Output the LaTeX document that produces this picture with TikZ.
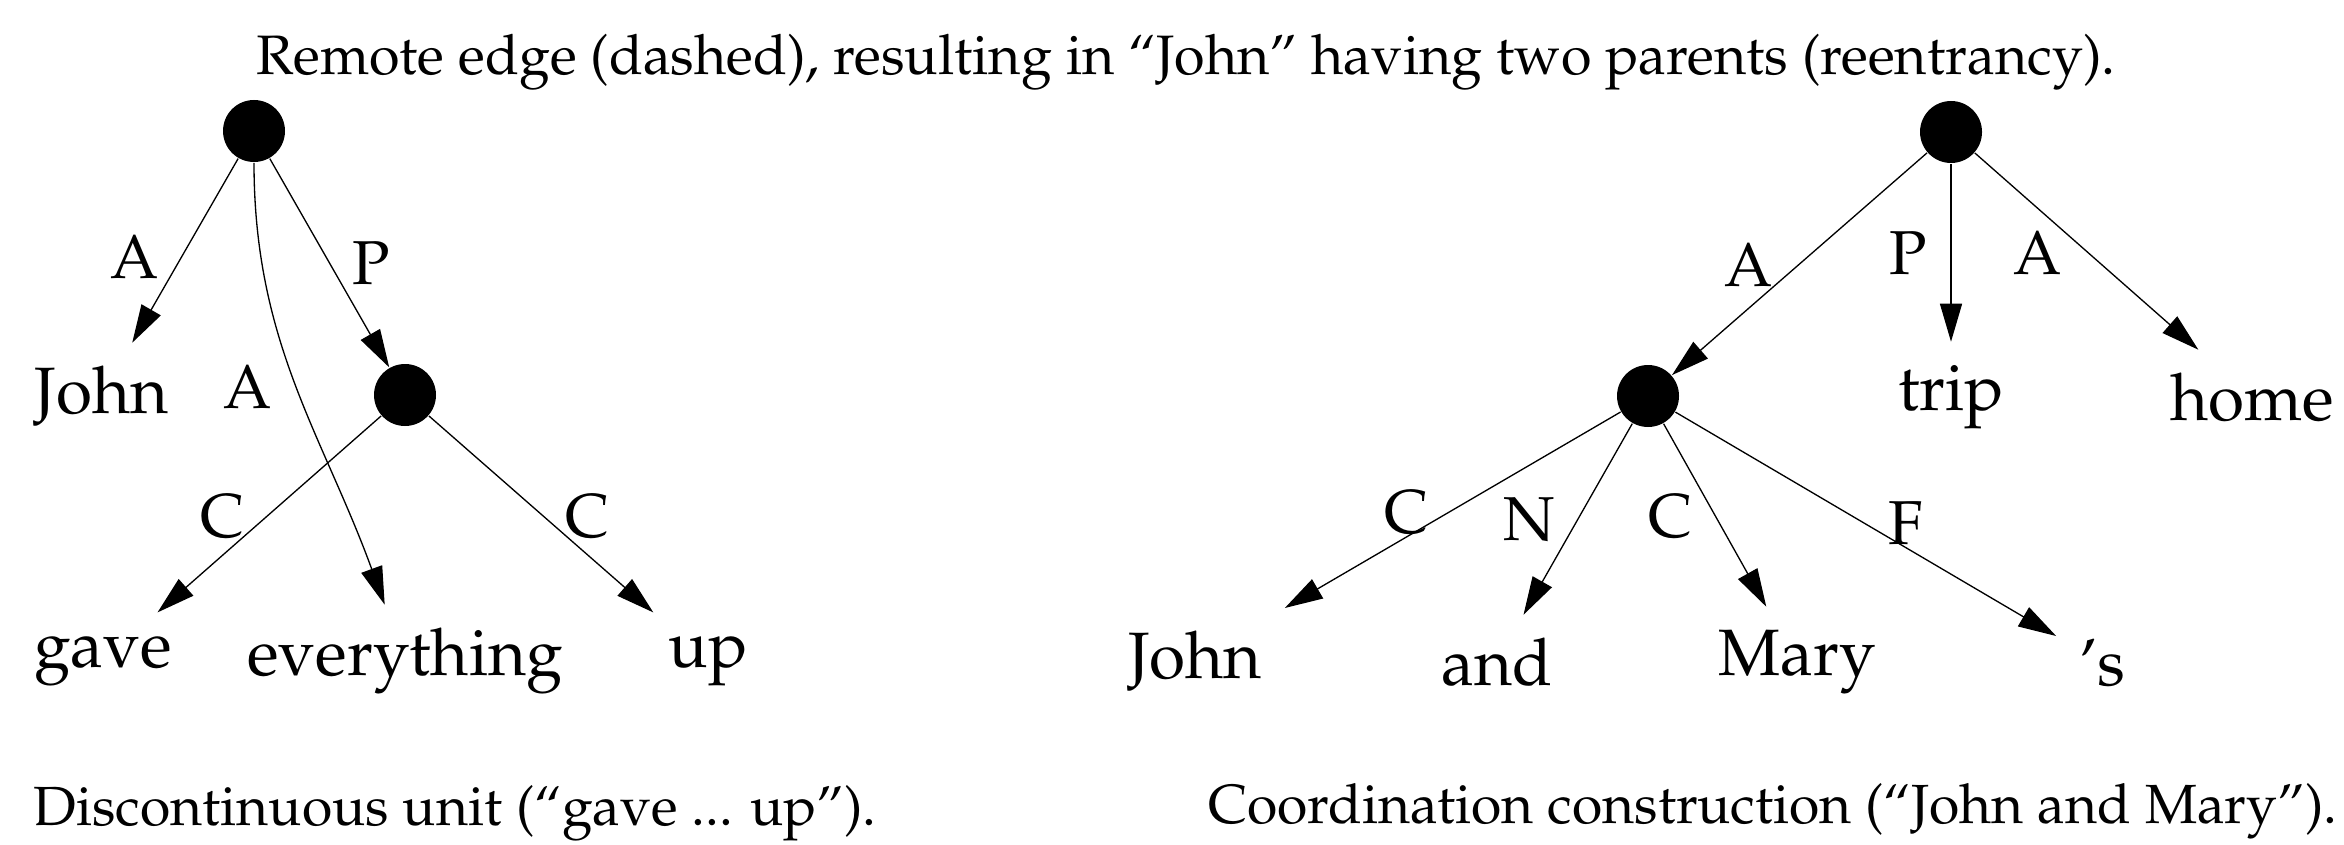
\documentclass[tikz,border=0pt]{standalone}
\usepackage[T1]{fontenc}
\usepackage{mathpazo}
\usetikzlibrary{arrows.meta}
\begin{document}
\begin{tikzpicture}[x=0.25pt,y=-0.25pt,
  unit/.style={circle,fill=black,inner sep=0pt,minimum size=15.5pt},
  word/.style={font=\fontsize{16.4}{18}\selectfont,inner sep=5.5pt,anchor=base},
  lbl/.style={font=\fontsize{15.5}{18}\selectfont,inner sep=0pt},
  edge/.style={line width=0.33pt,-{Triangle[length=9.5pt,width=5.5pt]}},
  capt/.style={font=\fontsize{13.8}{16}\selectfont,inner sep=0pt}]
\useasboundingbox (0,0) rectangle (2344,845);
% title
\node[font=\fontsize{13.9}{16}\selectfont,inner sep=0pt,anchor=base] (title) at (1186,75)
  {Remote edge (dashed), resulting in ``John'' having two parents (reentrancy).};
% left tree
\node[unit] (rootL) at (254,131) {};
\node[unit] (midL) at (405,395) {};
\node[word] (johnL) at (102,413) {John};
\node[word] (gave) at (103,667) {gave};
\node[word] (every) at (405,675) {everything};
\node[word] (up) at (708,667) {up};
\draw[edge] (rootL) -- (johnL);
\draw[edge] (rootL) -- (midL);
\draw[edge] (rootL) to[out=-90,in=110] (every);
\draw[edge] (midL) -- (gave);
\draw[edge] (midL) -- (up);
\node[lbl] (lA1) at (135,257) {A};
\node[lbl] (lP) at (371,263) {P};
\node[lbl] (lA2) at (248,387) {A};
\node[lbl] (lC1) at (222,517) {C};
\node[lbl] (lC2) at (587,517) {C};
\node[capt,anchor=base west] (capL) at (33,825) {Discontinuous unit (``gave ... up'').};
% right tree
\node[unit] (rootR) at (1951,132) {};
\node[unit] (midR) at (1648,396) {};
\node[word] (trip) at (1951,410) {trip};
\node[word] (home) at (2252,420) {home};
\node[word] (johnR) at (1195,678) {John};
\node[word] (and) at (1497,685) {and};
\node[word] (mary) at (1797,675) {Mary};
\node[word] (poss) at (2102,685) {'s};
\draw[edge] (rootR) -- (midR);
\draw[edge] (rootR) -- (trip);
\draw[edge] (rootR) -- (home);
\draw[edge] (midR) -- (johnR);
\draw[edge] (midR) -- (and);
\draw[edge] (midR) -- (mary);
\draw[edge] (midR) -- (poss);
\node[lbl] (rA1) at (1749,265) {A};
\node[lbl] (rP) at (1908,253) {P};
\node[lbl] (rA2) at (2038,253) {A};
\node[lbl] (rC1) at (1406,513) {C};
\node[lbl] (rN) at (1529,520) {N};
\node[lbl] (rC2) at (1670,517) {C};
\node[lbl] (rF) at (1906,523) {F};
\node[capt,anchor=base east] (capR) at (2338,823) {Coordination construction (``John and Mary'').};
\end{tikzpicture}
\end{document}
